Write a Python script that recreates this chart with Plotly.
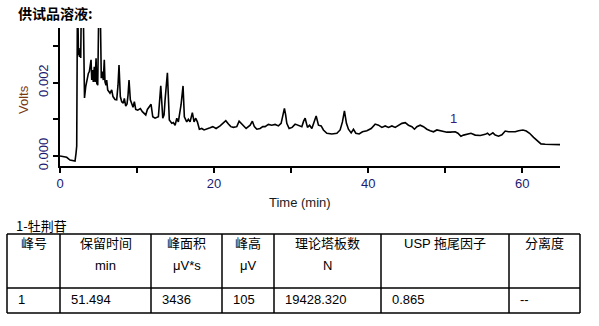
import plotly.graph_objects as go

# ---------------- data ----------------
time_min = [0.0, 0.87, 1.30, 1.95, 2.08, 2.17, 2.27, 2.40, 2.47, 2.53, 2.60, 2.69, 2.79, 2.99, 3.18,
            3.34, 3.47, 3.60, 3.68, 3.81, 4.03, 4.12, 4.25, 4.32, 4.45, 4.55, 4.68, 4.77, 4.90, 5.03,
            5.23, 5.36, 5.49, 5.62, 5.75, 5.84, 5.97, 6.06, 6.19, 6.36, 6.49, 6.71, 6.88, 7.14, 7.36,
            7.53, 7.66, 7.83, 8.01, 8.22, 8.35, 8.53, 8.70, 8.83, 8.96, 9.13, 9.31, 9.48, 9.65, 9.83,
            10.09, 10.43, 10.69, 11.13, 11.34, 11.82, 12.04, 12.34, 12.77, 12.92, 13.08, 13.34, 13.51,
            13.64, 13.94, 14.19, 14.51, 14.71, 14.94, 15.16, 15.36, 15.71, 15.97, 16.14, 16.45, 16.66,
            16.88, 17.18, 17.40, 17.62, 17.83, 18.09, 18.40, 18.70, 19.05, 19.48, 19.83, 20.26, 20.78,
            21.21, 21.52, 21.86, 22.17, 22.51, 22.95, 23.25, 23.51, 23.81, 24.16, 24.45, 24.68, 24.97,
            25.23, 25.55, 25.97, 26.32, 26.62, 27.05, 27.49, 27.92, 28.35, 28.70, 28.96, 29.13, 29.29,
            29.44, 29.74, 30.13, 30.52, 30.95, 31.39, 31.62, 31.82, 32.12, 32.40, 32.69, 32.99, 33.25,
            33.55, 33.90, 34.19, 34.64, 35.29, 35.94, 36.36, 36.66, 36.92, 37.18, 37.44, 37.79, 38.09,
            38.40, 38.83, 39.26, 39.83, 40.39, 40.91, 41.34, 41.78, 42.21, 42.64, 43.08, 43.51, 43.94,
            44.38, 44.81, 45.23, 45.68, 46.01, 46.32, 46.75, 47.18, 47.62, 48.05, 48.48, 48.92, 49.35,
            49.78, 50.22, 50.65, 51.30, 51.65, 52.04, 52.38, 52.82, 53.34, 53.90, 54.55, 55.19, 55.49,
            55.75, 56.19, 56.49, 56.92, 57.36, 57.79, 58.22, 58.66, 59.09, 59.52, 60.09, 60.52, 60.95,
            61.47, 61.91, 62.43, 62.99, 63.64, 64.29, 64.94]

volts = [0.0, -0.000035, -0.000109, -0.000136, 0.000074, 0.000272, 0.0045, 0.00275, 0.00294, 0.00270,
         0.00289, 0.00267, 0.0045, 0.0045, 0.00158,
         0.00189, 0.00207, 0.00212, 0.00225, 0.00230, 0.00262, 0.00207, 0.00234, 0.00202, 0.00243,
         0.00202, 0.00266, 0.00198, 0.00193, 0.0040,
         0.0040, 0.00212, 0.00230, 0.00207, 0.00262, 0.00202, 0.00193, 0.00207, 0.00180, 0.00175,
         0.00171, 0.00180, 0.00162, 0.00154, 0.00153,
         0.00193, 0.00248, 0.00162, 0.00148, 0.00144, 0.00157, 0.00136, 0.00142, 0.00166, 0.00207,
         0.00153, 0.00139, 0.00133, 0.00148, 0.00127,
         0.00125, 0.00129, 0.00121, 0.00112, 0.00127, 0.00141, 0.00107, 0.00103, 0.00107, 0.00153,
         0.00191, 0.00103, 0.00112,
         0.00153, 0.00227, 0.00098, 0.00089, 0.00091, 0.00084, 0.00103, 0.00093, 0.00139, 0.00191,
         0.00107, 0.00093, 0.00100,
         0.00093, 0.00118, 0.00093, 0.00103, 0.00093, 0.00073, 0.00075, 0.00071, 0.00073, 0.00077,
         0.00080, 0.00075, 0.00082,
         0.00089, 0.00096, 0.00087, 0.00080, 0.00078, 0.00080, 0.00095, 0.00090, 0.00082, 0.00075,
         0.00080, 0.00084, 0.00095,
         0.00080, 0.00073, 0.00075, 0.00080, 0.00080, 0.00086, 0.00084, 0.00086, 0.00082, 0.00089,
         0.00112, 0.00130, 0.00112,
         0.00089, 0.00075, 0.00078, 0.00087, 0.00084, 0.00080, 0.00095, 0.00103, 0.00078, 0.00084,
         0.00075, 0.00095, 0.00109,
         0.00084, 0.00082, 0.00071, 0.00062, 0.00060, 0.00062, 0.00071, 0.00093, 0.00123, 0.00089,
         0.00073, 0.00063, 0.00073,
         0.00062, 0.00060, 0.00066, 0.00069, 0.00075, 0.00087, 0.00084, 0.00078, 0.00082, 0.00078,
         0.00082, 0.00078, 0.00084,
         0.00089, 0.00091, 0.00084, 0.00080, 0.00073, 0.00080, 0.00084, 0.00080, 0.00073, 0.00069,
         0.00066, 0.00071, 0.00069,
         0.00066, 0.00065, 0.00065, 0.00066, 0.00062, 0.00054, 0.00057, 0.00059, 0.00062, 0.00057,
         0.00056, 0.00059, 0.00062,
         0.00057, 0.00063, 0.00057, 0.00054, 0.00058, 0.00068, 0.00066, 0.00065, 0.00066, 0.00069,
         0.00071, 0.00068, 0.00062,
         0.00051, 0.00042, 0.00033, 0.00032, 0.00031, 0.00032, 0.00031]

x_tick_vals = [0, 10, 20, 30, 40, 50, 60]
x_tick_text = ["0", "", "20", "", "40", "", "60"]
y_tick_vals = [0.0, 0.001, 0.002, 0.003]
y_tick_text = ["0.000", "", "0.002", ""]

peak_names = ["1"]
peak_times = [51.494]
peak_label_volts = [0.00066]

chart_title = "供试品溶液:"
x_title = "Time (min)"
y_title = "Volts"
table_caption = "1-牡荆苷"
header_line1 = ["峰号", "保留时间", "峰面积", "峰高", "理论塔板数", "USP 拖尾因子", "分离度"]
header_line2 = ["", "min", "μV*s", "μV", "N", "", ""]
row_values = ["1", "51.494", "3436", "105", "19428.320", "0.865", "--"]

# ---------------- layout geometry (pixels) ----------------
W, H = 599, 326
PL, PR, PT, PB = 60, 560, 28, 166   # plot area in pixels


def px(x):
    return (x - PL) / (PR - PL)


def py(y):
    return (PB - y) / (PB - PT)


FONT = "Arial, 'Liberation Sans', 'Noto Sans CJK SC', sans-serif"
CJK = "'Noto Sans CJK SC', Arial, sans-serif"

fig = go.Figure()
fig.add_trace(go.Scatter(x=time_min, y=volts, mode="lines",
                         line=dict(color="black", width=1.6), hoverinfo="skip",
                         showlegend=False))

annotations = []
shapes = []

# peak label
for name, t, v in zip(peak_names, peak_times, peak_label_volts):
    annotations.append(dict(x=t, y=v, xref="x", yref="y", text=name, showarrow=False,
                            yshift=13, xshift=-3, font=dict(family=FONT, size=13, color="#3a1a7a")))

# titles
annotations.append(dict(x=px(16), y=py(13), xref="paper", yref="paper", text="<b>" + chart_title + "</b>",
                        showarrow=False, xanchor="left", yanchor="middle",
                        font=dict(family=CJK, size=14, color="black")))
annotations.append(dict(x=px(300), y=py(202), xref="paper", yref="paper", text=x_title,
                        showarrow=False, xanchor="center", yanchor="middle",
                        font=dict(family=FONT, size=13, color="#1a1a1a")))
annotations.append(dict(x=px(23), y=py(100), xref="paper", yref="paper", text=y_title, textangle=-90,
                        showarrow=False, xanchor="center", yanchor="middle",
                        font=dict(family=FONT, size=13, color="#7a3a10")))

# table
col_edges = [7, 60, 151, 222, 274, 381, 509, 580]
row_edges = [234, 288, 313]
annotations.append(dict(x=px(14), y=py(225), xref="paper", yref="paper", text=table_caption,
                        showarrow=False, xanchor="left", yanchor="middle",
                        font=dict(family=CJK, size=13, color="black")))
for xe in col_edges:
    shapes.append(dict(type="line", xref="paper", yref="paper", x0=px(xe), x1=px(xe),
                       y0=py(row_edges[0]), y1=py(row_edges[-1]), line=dict(color="black", width=1.5)))
for ye in row_edges:
    shapes.append(dict(type="line", xref="paper", yref="paper", x0=px(col_edges[0]), x1=px(col_edges[-1]),
                       y0=py(ye), y1=py(ye), line=dict(color="black", width=1.5)))
for i in range(len(header_line1)):
    cx = (col_edges[i] + col_edges[i + 1]) / 2
    annotations.append(dict(x=px(cx), y=py(243), xref="paper", yref="paper", text=header_line1[i],
                            showarrow=False, xanchor="center", yanchor="middle",
                            font=dict(family=FONT, size=13, color="black")))
    if header_line2[i]:
        annotations.append(dict(x=px(cx), y=py(265), xref="paper", yref="paper", text=header_line2[i],
                                showarrow=False, xanchor="center", yanchor="middle",
                                font=dict(family=FONT, size=13, color="black")))
    annotations.append(dict(x=px(col_edges[i] + 9), y=py(299), xref="paper", yref="paper", text=row_values[i],
                            showarrow=False, xanchor="left", yanchor="middle",
                            font=dict(family=FONT, size=13, color="black")))

fig.update_layout(
    width=W, height=H,
    margin=dict(l=PL, r=W - PR, t=PT, b=H - PB, pad=0),
    paper_bgcolor="white", plot_bgcolor="white",
    font=dict(family=FONT, size=13, color="black"),
    annotations=annotations, shapes=shapes,
    xaxis=dict(range=[0, 64.9], showgrid=False, zeroline=False, showline=True, linecolor="black",
               linewidth=1.5, ticks="outside", ticklen=5, tickwidth=1.5, tickcolor="black",
               tickvals=x_tick_vals, ticktext=x_tick_text,
               tickfont=dict(family=FONT, size=13, color="#1a1a70")),
    yaxis=dict(range=[-0.000272, 0.003488], showgrid=False, zeroline=False, showline=True, linecolor="black",
               linewidth=1.5, ticks="outside", ticklen=5, tickwidth=1.5, tickcolor="black",
               tickvals=y_tick_vals, ticktext=y_tick_text, tickangle=-90,
               tickfont=dict(family=FONT, size=13, color="#1a1a70")),
)

fig.write_html("out.html", config={"displayModeBar": False})
